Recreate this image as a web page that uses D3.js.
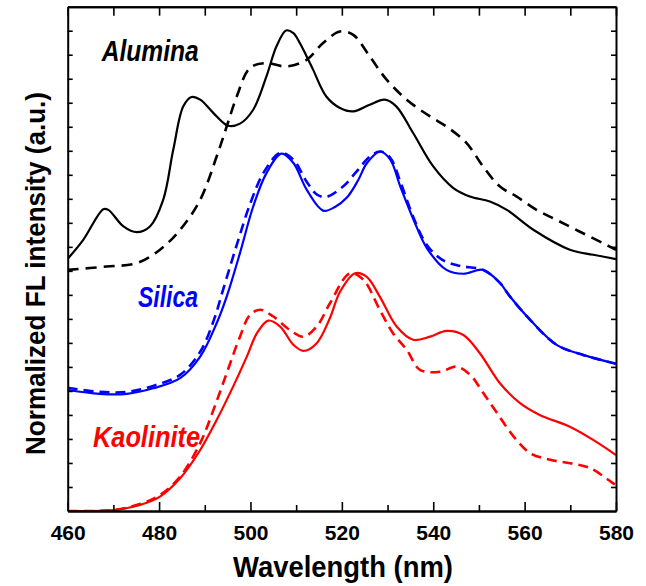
<!DOCTYPE html>
<html><head><meta charset="utf-8">
<script src="https://cdn.jsdelivr.net/npm/d3@7"></script>
<style>
html,body{margin:0;padding:0;background:#fff;}
svg{display:block;font-family:"Liberation Sans",Arial,sans-serif;}
</style></head>
<body><svg id="c" width="646" height="586"></svg>
<script>
// ---- data (wavelength nm, normalized intensity offset units) ----
const aluminaSolidX = [460,463.4,467.8,468.9,472.2,475.1,478,480.9,483.1,485.3,487.1,489,491.9,495.1,497.7,500.6,503.5,505.7,507.8,509.4,510.8,512.3,513.7,516.6,519.6,522.5,526.1,529.4,531.9,535.6,540,544.4,548,552.4,556.1,561.9,569.9,575,580];
const aluminaSolidY = [10.50,11.29,12.57,12.54,11.85,11.61,11.85,12.96,15.04,16.85,17.24,17.13,16.57,16.04,16.13,16.71,18.10,19.35,20.01,19.90,19.49,18.93,18.38,17.26,16.78,16.64,16.92,17.13,16.85,15.74,14.35,13.45,13.10,12.89,12.54,11.71,10.88,10.67,10.49];

const aluminaDashX = [460,468.5,475.1,480.2,484.6,489,492.6,494.8,497,499.9,503.5,507.9,512.3,515.9,519.6,522.5,526.1,529.8,534.2,539.3,542.9,547.3,550.9,554.6,558.2,562.6,566.9,572,577.9,580];
const aluminaDashY = [10.04,10.18,10.32,10.88,11.71,12.96,14.76,16.01,17.26,18.45,18.65,18.51,18.79,19.49,19.97,19.83,18.93,17.96,17.13,16.43,16.01,15.32,14.35,13.51,13.10,12.54,12.13,11.64,11.08,10.88];

const silicaSolidX = [460,467,472.9,478.7,484.6,489,492.6,494.8,497.7,500.6,503.5,506.8,509.4,512.3,515.9,518.5,521.1,523.5,525.5,528.4,530.6,532.8,535.7,538.6,542.9,546.6,550.9,554.6,556.8,561.2,567,572.8,580];
const silicaSolidY = [5.04,4.88,4.88,5.11,5.53,6.43,7.82,8.93,10.74,12.68,14.07,14.88,14.49,13.38,12.51,12.66,13.05,13.75,14.49,14.97,14.63,13.51,12.13,10.95,10.04,9.88,10.04,9.49,8.93,7.96,6.92,6.50,6.13];

const silicaDashX = [460,467,472.9,478.7,484.6,489,492,494,497,500,503,506.6,509.4,512.3,514.6,516.6,520.2,523.2,526.1,528.4,530.6,532.8,535.7,538.6,542,545.8,550.9,554.6,556.8,561.2,567,572.8,580];
const silicaDashY = [5.13,4.96,4.96,5.21,5.67,6.63,7.96,9.21,11.08,12.83,14.13,14.92,14.63,13.71,13.17,13.08,13.50,14.13,14.75,14.97,14.71,13.71,12.21,11.08,10.46,10.21,10.04,9.50,8.93,7.96,6.92,6.50,6.13];

const kaoliniteSolidX = [460,470,475.8,480.2,484.6,489,492.6,496.2,499.2,501.4,503.9,506.5,509.4,511.6,514.5,517.4,519.6,522.9,525.4,528.3,532,535.6,539.3,542.9,546.6,550.2,554.6,559,563.3,569.9,575,580];
const kaoliniteSolidY = [0.00,0.04,0.25,0.60,1.36,2.54,3.79,5.18,6.43,7.40,7.93,7.68,6.92,6.67,6.99,8.04,9.13,9.90,9.76,8.93,7.68,7.13,7.26,7.50,7.33,6.57,5.32,4.49,4.00,3.51,2.96,2.33];

const kaoliniteDashX = [460,470,475.8,480.2,484.6,489,491.9,494.8,497.7,499.9,502.1,505,508.6,511.6,514.5,517.4,521.8,524.7,528.3,531.2,534.2,537.1,541.5,545.1,548.1,551,554,557.6,561.3,565.6,570,574.4,579.4,580];
const kaoliniteDashY = [0.00,0.04,0.29,0.67,1.43,2.83,4.21,5.74,7.26,8.17,8.38,8.10,7.54,7.26,7.68,8.65,9.90,9.63,8.38,7.40,6.71,5.88,5.80,6.01,5.67,4.90,4.07,3.10,2.40,2.13,1.99,1.78,1.15,1.08];

const xMajorTicks = [460,480,500,520,540,560,580];
const xMinorTicks = [470,490,510,530,550,570];
const yTicks = d3.range(1,21);
const seriesNames = ["Alumina","Silica","Kaolinite"];
const seriesColors = ["#000000","#0000ff","#ff0000"];

// ---- layout ----
const svg = d3.select("#c");
const pL = 67.7, pR = 616, pT = 6.7, pB = 511;
const x = d3.scaleLinear().domain([460,580]).range([pL,pR]);
const y = d3.scaleLinear().domain([0,21]).range([pB,pT]);

const zip = (xs,ys) => xs.map((v,i)=>[v,ys[i]]);
const line = d3.line().x(d=>x(d[0])).y(d=>y(d[1])).curve(d3.curveCatmullRom.alpha(0.5));

const series = [
  {d: zip(aluminaSolidX, aluminaSolidY), c: seriesColors[0], dash: null},
  {d: zip(aluminaDashX, aluminaDashY), c: seriesColors[0], dash: "11,7"},
  {d: zip(silicaSolidX, silicaSolidY), c: seriesColors[1], dash: null},
  {d: zip(silicaDashX, silicaDashY), c: seriesColors[1], dash: "10,6"},
  {d: zip(kaoliniteSolidX, kaoliniteSolidY), c: seriesColors[2], dash: null},
  {d: zip(kaoliniteDashX, kaoliniteDashY), c: seriesColors[2], dash: "10,6"}
];

svg.append("clipPath").attr("id","pc").append("rect")
  .attr("x",pL).attr("y",pT).attr("width",pR-pL).attr("height",pB-pT+1);

svg.append("g").attr("clip-path","url(#pc)").selectAll("path").data(series).join("path")
  .attr("d", s=>line(s.d)).attr("fill","none").attr("stroke", s=>s.c)
  .attr("stroke-width", s=>s.dash?2.6:2.2).attr("stroke-dasharray", s=>s.dash)
  .attr("stroke-linejoin","round");

// axes
function styleAxis(g){ g.selectAll("path.domain").attr("stroke","#000").attr("stroke-width",2);
  g.selectAll(".tick line").attr("stroke","#000").attr("stroke-width",1.6); }

const gb = svg.append("g").attr("transform",`translate(0,${pB})`)
  .call(d3.axisBottom(x).tickValues(xMajorTicks).tickSize(-9).tickSizeOuter(0).tickPadding(14).tickFormat(d3.format("d")));
styleAxis(gb);
gb.selectAll("text").attr("font-size",21).attr("font-weight","bold").attr("fill","#000");
const gbm = svg.append("g").attr("transform",`translate(0,${pB})`)
  .call(d3.axisBottom(x).tickValues(xMinorTicks).tickSize(-6).tickSizeOuter(0).tickFormat(""));
styleAxis(gbm);

const gt = svg.append("g").attr("transform",`translate(0,${pT})`)
  .call(d3.axisTop(x).tickValues(xMajorTicks).tickSize(-9).tickSizeOuter(0).tickFormat(""));
styleAxis(gt);
const gtm = svg.append("g").attr("transform",`translate(0,${pT})`)
  .call(d3.axisTop(x).tickValues(xMinorTicks).tickSize(-9).tickSizeOuter(0).tickFormat(""));
styleAxis(gtm);

const gl = svg.append("g").attr("transform",`translate(${pL},0)`)
  .call(d3.axisLeft(y).tickValues(yTicks).tickSize(-5).tickSizeOuter(0).tickFormat(""));
styleAxis(gl);
const gr = svg.append("g").attr("transform",`translate(${pR},0)`)
  .call(d3.axisRight(y).tickValues(yTicks).tickSize(-5).tickSizeOuter(0).tickFormat(""));
styleAxis(gr);

// axis titles
svg.append("text").attr("x",233).attr("y",577).attr("font-size",30).attr("font-weight","bold")
  .attr("textLength",220).attr("lengthAdjust","spacingAndGlyphs").text("Wavelength (nm)");
svg.append("text").attr("transform","translate(45,455) rotate(-90)").attr("font-size",28).attr("font-weight","bold")
  .attr("textLength",363).attr("lengthAdjust","spacingAndGlyphs").text("Normalized FL intensity (a.u.)");

// series labels
const labelPos = [[101.7,61,97],[138,306.7,60],[93,446.7,107]];
seriesNames.forEach((n,i)=>{
  svg.append("text").attr("x",labelPos[i][0]).attr("y",labelPos[i][1])
    .attr("font-size",29).attr("font-weight","bold").attr("font-style","italic")
    .attr("fill",seriesColors[i]).attr("textLength",labelPos[i][2]).attr("lengthAdjust","spacingAndGlyphs")
    .text(n);
});
</script>
</body></html>
